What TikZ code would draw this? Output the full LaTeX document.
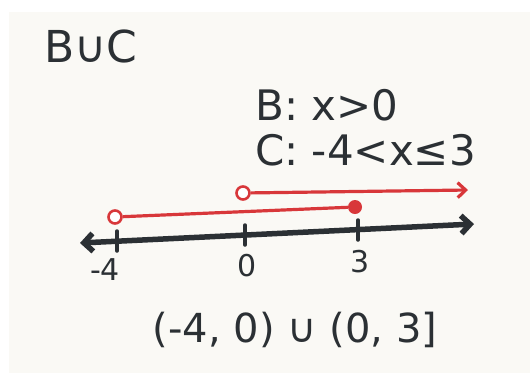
\documentclass[tikz,border=0pt]{standalone}
\usepackage{fontspec}
\setmainfont{DejaVu Sans}
\usepackage{xcolor}
\definecolor{Paper}{HTML}{FAF9F5}
\definecolor{Ink}{HTML}{2B3034}
\definecolor{Marker}{HTML}{D8373A}
\usetikzlibrary{arrows.meta,positioning}

\begin{document}
\begin{tikzpicture}[x=1pt,y=-1pt,
  hand/.style={font=\fontsize{42}{46}\selectfont,text=Ink,inner sep=0pt},
  numlabel/.style={font=\fontsize{30}{32}\selectfont,text=Ink,inner sep=0pt},
  axis/.style={draw=Ink,line width=5.5pt,line cap=round},
  tickmark/.style={draw=Ink,line width=3.5pt,line cap=round},
  ray/.style={draw=Marker,line width=3.2pt},
  opendot/.style={circle,draw=Marker,fill=white,line width=2.6pt,minimum size=13pt,inner sep=0pt},
  closeddot/.style={circle,fill=Marker,minimum size=14pt,inner sep=0pt}
]
  \useasboundingbox (0,0) rectangle (530,384);
  \fill[white] (0,0) rectangle (530,384);
  \fill[Paper] (9,12) rectangle (530,373);

  % headings
  \node[hand,font=\fontsize{44}{48}\selectfont,anchor=west] (title) at (44,46) {B∪C};
  \node[hand,anchor=west] (setb) at (255,105) {B: x>0};
  \node[hand,anchor=west] (setc) at (255,150) {C: -4<x≤3};

  % number line
  \coordinate (axl) at (80,243);
  \coordinate (axr) at (474,224);
  \draw[axis,{Straight Barb[length=9pt,width=18pt]}-{Straight Barb[length=9pt,width=18pt]}] (axl) -- (axr);
  \coordinate (tm4) at (117,241);
  \coordinate (tz) at (245,235);
  \coordinate (tt) at (358,230);
  \foreach \t in {tm4,tz,tt}
    \draw[tickmark] ([yshift=10pt]\t) -- ([yshift=-10pt]\t);
  \node[numlabel] (lm4) at (105,270) {-4};
  \node[numlabel] (lz) at (247,266) {0};
  \node[numlabel] (lt) at (360,262) {3};

  % set C
  \node[opendot] (cl) at (115,217) {};
  \node[closeddot] (cr) at (355,207) {};
  \draw[ray] (cl) -- (cr);

  % set B
  \node[opendot] (bl) at (243,193) {};
  \coordinate (br) at (468,190);
  \draw[ray,-{Straight Barb[length=8pt,width=15pt]}] (bl) -- (br);

  % answer
  \node[hand,font=\fontsize{40}{44}\selectfont] (answer) at (295,330) {(-4, 0) ∪ (0, 3]};
\end{tikzpicture}
\end{document}
